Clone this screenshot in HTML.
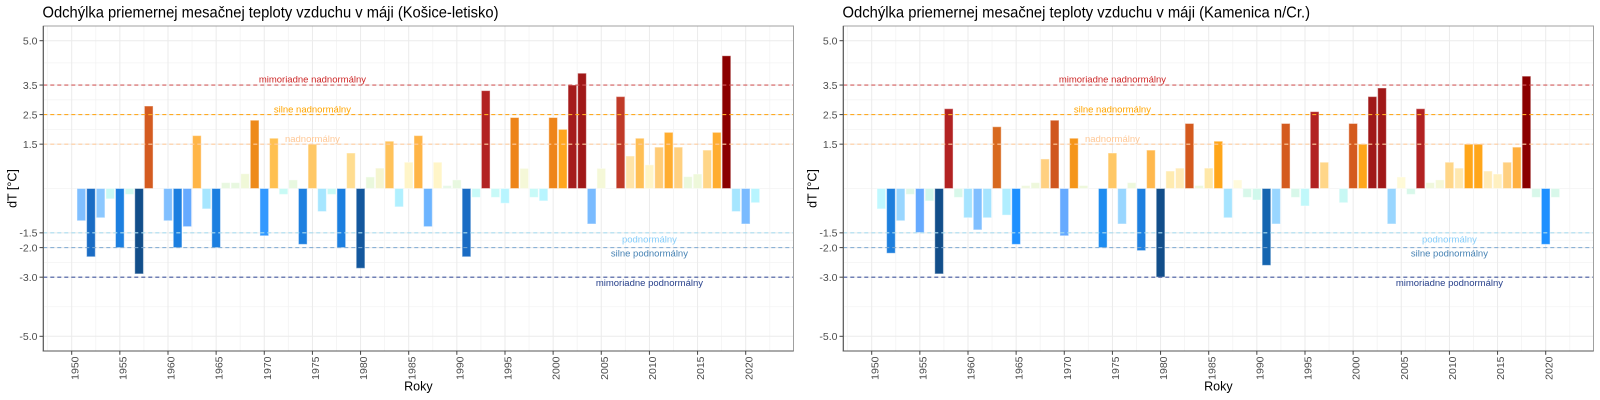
<!DOCTYPE html>
<html><head><meta charset="utf-8"><style>
html,body{margin:0;padding:0;background:#fff;}
svg{display:block;font-family:"Liberation Sans",Arial,sans-serif;}
.t{font-size:15.5px;fill:#000;}
.yt{font-size:10.5px;fill:#4D4D4D;text-anchor:end;}
.xt{font-size:10.5px;fill:#4D4D4D;text-anchor:end;}
.at{font-size:12.5px;fill:#000;text-anchor:middle;}
.lb{font-size:9.5px;text-anchor:middle;}
.gM{stroke:#EBEBEB;stroke-width:1;}
.gm{stroke:#F3F3F3;stroke-width:0.8;}
.bars rect{stroke:#fff;stroke-opacity:0.45;stroke-width:1;vector-effect:non-scaling-stroke;}
.dl{stroke-width:1.1;stroke-dasharray:4 3;fill:none;}
.tk{stroke:#444;stroke-width:1;}
</style></head><body>
<svg width="1600" height="400" viewBox="0 0 1600 400" xmlns="http://www.w3.org/2000/svg">
<defs>
<g id="frame">
  <rect x="43.3" y="26" width="750.2" height="325" fill="#fff"/>
  <!-- minor grid -->
  <g class="gm">
    <line x1="43.3" x2="793.5" y1="62.87" y2="62.87"/>
    <line x1="43.3" x2="793.5" y1="99.82" y2="99.82"/>
    <line x1="43.3" x2="793.5" y1="129.38" y2="129.38"/>
    <line x1="43.3" x2="793.5" y1="188.5" y2="188.5"/>
    <line x1="43.3" x2="793.5" y1="240.23" y2="240.23"/>
    <line x1="43.3" x2="793.5" y1="262.4" y2="262.4"/>
    <line x1="43.3" x2="793.5" y1="306.74" y2="306.74"/>
    <line y1="26" y2="351" x1="47.63" x2="47.63"/>
    <line y1="26" y2="351" x1="95.77" x2="95.77"/>
    <line y1="26" y2="351" x1="143.91" x2="143.91"/>
    <line y1="26" y2="351" x1="192.06" x2="192.06"/>
    <line y1="26" y2="351" x1="240.2" x2="240.2"/>
    <line y1="26" y2="351" x1="288.35" x2="288.35"/>
    <line y1="26" y2="351" x1="336.49" x2="336.49"/>
    <line y1="26" y2="351" x1="384.63" x2="384.63"/>
    <line y1="26" y2="351" x1="432.77" x2="432.77"/>
    <line y1="26" y2="351" x1="480.92" x2="480.92"/>
    <line y1="26" y2="351" x1="529.06" x2="529.06"/>
    <line y1="26" y2="351" x1="577.2" x2="577.2"/>
    <line y1="26" y2="351" x1="625.35" x2="625.35"/>
    <line y1="26" y2="351" x1="673.49" x2="673.49"/>
    <line y1="26" y2="351" x1="721.63" x2="721.63"/>
    <line y1="26" y2="351" x1="769.77" x2="769.77"/>
  </g>
  <!-- major grid -->
  <g class="gM">
    <line x1="43.3" x2="793.5" y1="40.7" y2="40.7"/>
    <line x1="43.3" x2="793.5" y1="85.04" y2="85.04"/>
    <line x1="43.3" x2="793.5" y1="114.6" y2="114.6"/>
    <line x1="43.3" x2="793.5" y1="144.16" y2="144.16"/>
    <line x1="43.3" x2="793.5" y1="232.84" y2="232.84"/>
    <line x1="43.3" x2="793.5" y1="247.62" y2="247.62"/>
    <line x1="43.3" x2="793.5" y1="277.18" y2="277.18"/>
    <line x1="43.3" x2="793.5" y1="336.3" y2="336.3"/>
    <line y1="26" y2="351" x1="71.7" x2="71.7"/>
    <line y1="26" y2="351" x1="119.84" x2="119.84"/>
    <line y1="26" y2="351" x1="167.99" x2="167.99"/>
    <line y1="26" y2="351" x1="216.13" x2="216.13"/>
    <line y1="26" y2="351" x1="264.27" x2="264.27"/>
    <line y1="26" y2="351" x1="312.42" x2="312.42"/>
    <line y1="26" y2="351" x1="360.56" x2="360.56"/>
    <line y1="26" y2="351" x1="408.7" x2="408.7"/>
    <line y1="26" y2="351" x1="456.84" x2="456.84"/>
    <line y1="26" y2="351" x1="504.99" x2="504.99"/>
    <line y1="26" y2="351" x1="553.13" x2="553.13"/>
    <line y1="26" y2="351" x1="601.27" x2="601.27"/>
    <line y1="26" y2="351" x1="649.42" x2="649.42"/>
    <line y1="26" y2="351" x1="697.56" x2="697.56"/>
    <line y1="26" y2="351" x1="745.7" x2="745.7"/>
  </g>
</g>
<g id="over">
  <line class="dl" x1="43.3" x2="793.5" y1="85.04" y2="85.04" stroke="#D05A5A"/>
  <line class="dl" x1="43.3" x2="793.5" y1="114.6" y2="114.6" stroke="#FFAA22"/>
  <line class="dl" x1="43.3" x2="793.5" y1="144.16" y2="144.16" stroke="#FFCC9E"/>
  <line class="dl" x1="43.3" x2="793.5" y1="232.84" y2="232.84" stroke="#A9DCEF"/>
  <line class="dl" x1="43.3" x2="793.5" y1="247.62" y2="247.62" stroke="#7DA9D2"/>
  <line class="dl" x1="43.3" x2="793.5" y1="277.18" y2="277.18" stroke="#43579E"/>
  <text class="lb" x="312.42" y="82.5" fill="#CD2626">mimoriadne nadnormálny</text>
  <text class="lb" x="312.42" y="112.5" fill="#FFA500">silne nadnormálny</text>
  <text class="lb" x="312.42" y="142" fill="#FFC896">nadnormálny</text>
  <text class="lb" x="649.42" y="242.5" fill="#87CEFA">podnormálny</text>
  <text class="lb" x="649.42" y="256.5" fill="#4682B4">silne podnormálny</text>
  <text class="lb" x="649.42" y="286" fill="#27408B">mimoriadne podnormálny</text>
  <!-- border -->
  <rect x="43.3" y="26" width="750.2" height="325" fill="none" stroke="#A0A0A0" stroke-width="1"/>
  <line x1="43.3" x2="43.3" y1="26" y2="351.5" stroke="#555" stroke-width="1.1"/>
  <line x1="42.8" x2="793.5" y1="351" y2="351" stroke="#555" stroke-width="1.1"/>
  <!-- y ticks -->
  <g class="tk">
    <line x1="39.5" x2="43.3" y1="40.7" y2="40.7"/>
    <line x1="39.5" x2="43.3" y1="85.04" y2="85.04"/>
    <line x1="39.5" x2="43.3" y1="114.6" y2="114.6"/>
    <line x1="39.5" x2="43.3" y1="144.16" y2="144.16"/>
    <line x1="39.5" x2="43.3" y1="232.84" y2="232.84"/>
    <line x1="39.5" x2="43.3" y1="247.62" y2="247.62"/>
    <line x1="39.5" x2="43.3" y1="277.18" y2="277.18"/>
    <line x1="39.5" x2="43.3" y1="336.3" y2="336.3"/>
    <line y1="351" y2="354.8" x1="71.7" x2="71.7"/>
    <line y1="351" y2="354.8" x1="119.84" x2="119.84"/>
    <line y1="351" y2="354.8" x1="167.99" x2="167.99"/>
    <line y1="351" y2="354.8" x1="216.13" x2="216.13"/>
    <line y1="351" y2="354.8" x1="264.27" x2="264.27"/>
    <line y1="351" y2="354.8" x1="312.42" x2="312.42"/>
    <line y1="351" y2="354.8" x1="360.56" x2="360.56"/>
    <line y1="351" y2="354.8" x1="408.7" x2="408.7"/>
    <line y1="351" y2="354.8" x1="456.84" x2="456.84"/>
    <line y1="351" y2="354.8" x1="504.99" x2="504.99"/>
    <line y1="351" y2="354.8" x1="553.13" x2="553.13"/>
    <line y1="351" y2="354.8" x1="601.27" x2="601.27"/>
    <line y1="351" y2="354.8" x1="649.42" x2="649.42"/>
    <line y1="351" y2="354.8" x1="697.56" x2="697.56"/>
    <line y1="351" y2="354.8" x1="745.7" x2="745.7"/>
  </g>
  <text class="yt" x="37.5" y="44.4">5.0</text>
  <text class="yt" x="37.5" y="88.8">3.5</text>
  <text class="yt" x="37.5" y="118.3">2.5</text>
  <text class="yt" x="37.5" y="147.9">1.5</text>
  <text class="yt" x="37.5" y="236.6">-1.5</text>
  <text class="yt" x="37.5" y="251.4">-2.0</text>
  <text class="yt" x="37.5" y="280.9">-3.0</text>
  <text class="yt" x="37.5" y="340">-5.0</text>
  <text class="xt" transform="translate(78.3,356.5) rotate(-90)">1950</text>
  <text class="xt" transform="translate(126.44,356.5) rotate(-90)">1955</text>
  <text class="xt" transform="translate(174.59,356.5) rotate(-90)">1960</text>
  <text class="xt" transform="translate(222.73,356.5) rotate(-90)">1965</text>
  <text class="xt" transform="translate(270.87,356.5) rotate(-90)">1970</text>
  <text class="xt" transform="translate(319.02,356.5) rotate(-90)">1975</text>
  <text class="xt" transform="translate(367.16,356.5) rotate(-90)">1980</text>
  <text class="xt" transform="translate(415.3,356.5) rotate(-90)">1985</text>
  <text class="xt" transform="translate(463.44,356.5) rotate(-90)">1990</text>
  <text class="xt" transform="translate(511.59,356.5) rotate(-90)">1995</text>
  <text class="xt" transform="translate(559.73,356.5) rotate(-90)">2000</text>
  <text class="xt" transform="translate(607.87,356.5) rotate(-90)">2005</text>
  <text class="xt" transform="translate(656.02,356.5) rotate(-90)">2010</text>
  <text class="xt" transform="translate(704.16,356.5) rotate(-90)">2015</text>
  <text class="xt" transform="translate(752.3,356.5) rotate(-90)">2020</text>
  <text class="at" x="418.4" y="390.5">Roky</text>
  <text class="at" transform="translate(16.3,188.5) rotate(-90)">dT [°C]</text>
</g>
</defs>

<!-- LEFT PANEL -->
<use href="#frame"/>
<g class="bars" transform="translate(71.7,188.5) scale(9.6286,-29.56)">
<rect x="0.55" y="-1.09" width="0.9" height="1.09" fill="#80BFFF"/>
<rect x="1.55" y="-2.31" width="0.9" height="2.31" fill="#1A6CC4"/>
<rect x="2.55" y="-0.99" width="0.9" height="0.99" fill="#8CC8FF"/>
<rect x="3.55" y="-0.35" width="0.9" height="0.35" fill="#C8FAF5"/>
<rect x="4.55" y="-2.0" width="0.9" height="2.0" fill="#1C7FE0"/>
<rect x="5.55" y="-0.2" width="0.9" height="0.2" fill="#D0FAF0"/>
<rect x="6.55" y="-2.89" width="0.9" height="2.89" fill="#124E8A"/>
<rect x="7.55" y="0" width="0.9" height="2.79" fill="#D45B20"/>
<rect x="9.55" y="-1.09" width="0.9" height="1.09" fill="#80BFFF"/>
<rect x="10.55" y="-2.0" width="0.9" height="2.0" fill="#1C7FE0"/>
<rect x="11.55" y="-1.29" width="0.9" height="1.29" fill="#66AAFF"/>
<rect x="12.55" y="0" width="0.9" height="1.79" fill="#FFB547"/>
<rect x="13.55" y="-0.69" width="0.9" height="0.69" fill="#A6E6FF"/>
<rect x="14.55" y="-2.0" width="0.9" height="2.0" fill="#1C7FE0"/>
<rect x="15.55" y="0" width="0.9" height="0.2" fill="#E8F8E0"/>
<rect x="16.55" y="0" width="0.9" height="0.2" fill="#E8F8E0"/>
<rect x="17.55" y="0" width="0.9" height="0.5" fill="#F0F8D8"/>
<rect x="18.55" y="0" width="0.9" height="2.31" fill="#EE8A1A"/>
<rect x="19.55" y="-1.6" width="0.9" height="1.6" fill="#3399FF"/>
<rect x="20.55" y="0" width="0.9" height="1.7" fill="#FFC050"/>
<rect x="21.55" y="-0.2" width="0.9" height="0.2" fill="#C8FAF5"/>
<rect x="22.55" y="0" width="0.9" height="0.29" fill="#E8F8E0"/>
<rect x="23.55" y="-1.89" width="0.9" height="1.89" fill="#1E80E0"/>
<rect x="24.55" y="0" width="0.9" height="1.5" fill="#FFC866"/>
<rect x="25.55" y="-0.78" width="0.9" height="0.78" fill="#A6E6FF"/>
<rect x="26.55" y="-0.2" width="0.9" height="0.2" fill="#C8FAF5"/>
<rect x="27.55" y="-2.0" width="0.9" height="2.0" fill="#1C7FE0"/>
<rect x="28.55" y="0" width="0.9" height="1.2" fill="#FFDD90"/>
<rect x="29.55" y="-2.7" width="0.9" height="2.7" fill="#14589E"/>
<rect x="30.55" y="0" width="0.9" height="0.39" fill="#EAF8DC"/>
<rect x="31.55" y="0" width="0.9" height="0.69" fill="#F5F5D0"/>
<rect x="32.55" y="0" width="0.9" height="1.6" fill="#FFC25A"/>
<rect x="33.55" y="-0.62" width="0.9" height="0.62" fill="#B0F0FF"/>
<rect x="34.55" y="0" width="0.9" height="0.89" fill="#FFF5C8"/>
<rect x="35.55" y="0" width="0.9" height="1.79" fill="#FFB547"/>
<rect x="36.55" y="-1.29" width="0.9" height="1.29" fill="#6CB4FF"/>
<rect x="37.55" y="0" width="0.9" height="0.89" fill="#FFF5C8"/>
<rect x="38.55" y="0" width="0.9" height="0.1" fill="#E8F8E8"/>
<rect x="39.55" y="0" width="0.9" height="0.29" fill="#E8F8E0"/>
<rect x="40.55" y="-2.31" width="0.9" height="2.31" fill="#1A6CC4"/>
<rect x="41.55" y="-0.3" width="0.9" height="0.3" fill="#C8FAF8"/>
<rect x="42.55" y="0" width="0.9" height="3.31" fill="#B22222"/>
<rect x="43.55" y="-0.3" width="0.9" height="0.3" fill="#C8FAF8"/>
<rect x="44.55" y="-0.5" width="0.9" height="0.5" fill="#B8F5FF"/>
<rect x="45.55" y="0" width="0.9" height="2.4" fill="#EE851A"/>
<rect x="46.55" y="0" width="0.9" height="0.68" fill="#F5F8D8"/>
<rect x="47.55" y="-0.3" width="0.9" height="0.3" fill="#C8FAF8"/>
<rect x="48.55" y="-0.42" width="0.9" height="0.42" fill="#B8F5FF"/>
<rect x="49.55" y="0" width="0.9" height="2.4" fill="#EE851A"/>
<rect x="50.55" y="0" width="0.9" height="2.0" fill="#FFA61F"/>
<rect x="51.55" y="0" width="0.9" height="3.5" fill="#A51C1C"/>
<rect x="52.55" y="0" width="0.9" height="3.9" fill="#A01818"/>
<rect x="53.55" y="-1.2" width="0.9" height="1.2" fill="#7ABBFF"/>
<rect x="54.55" y="0" width="0.9" height="0.68" fill="#F5F8D8"/>
<rect x="56.55" y="0" width="0.9" height="3.11" fill="#C03A28"/>
<rect x="57.55" y="0" width="0.9" height="1.1" fill="#FFE4A8"/>
<rect x="58.55" y="0" width="0.9" height="1.7" fill="#FFBF55"/>
<rect x="59.55" y="0" width="0.9" height="0.8" fill="#FFF5C8"/>
<rect x="60.55" y="0" width="0.9" height="1.4" fill="#FFCC77"/>
<rect x="61.55" y="0" width="0.9" height="1.9" fill="#FFAD30"/>
<rect x="62.55" y="0" width="0.9" height="1.4" fill="#FFD080"/>
<rect x="63.55" y="0" width="0.9" height="0.4" fill="#EAF8DC"/>
<rect x="64.55" y="0" width="0.9" height="0.49" fill="#EEF8DA"/>
<rect x="65.55" y="0" width="0.9" height="1.3" fill="#FFD688"/>
<rect x="66.55" y="0" width="0.9" height="1.9" fill="#FFAD30"/>
<rect x="67.55" y="0" width="0.9" height="4.49" fill="#8B0000"/>
<rect x="68.55" y="-0.78" width="0.9" height="0.78" fill="#A6E6FF"/>
<rect x="69.55" y="-1.2" width="0.9" height="1.2" fill="#7ABBFF"/>
<rect x="70.55" y="-0.48" width="0.9" height="0.48" fill="#B8F5FF"/>
</g>
<use href="#over"/>
<text class="t" x="42.5" y="17.3" textLength="456" lengthAdjust="spacingAndGlyphs">Odchýlka priemernej mesačnej teploty vzduchu v máji (Košice-letisko)</text>

<!-- RIGHT PANEL -->
<g transform="translate(800,0)">
<use href="#frame"/>
<g class="bars" transform="translate(71.7,188.5) scale(9.6286,-29.56)">
<rect x="0.55" y="-0.69" width="0.9" height="0.69" fill="#C0F8FF"/>
<rect x="1.55" y="-2.19" width="0.9" height="2.19" fill="#1E7FDD"/>
<rect x="2.55" y="-1.09" width="0.9" height="1.09" fill="#99D6FF"/>
<rect x="3.55" y="-0.2" width="0.9" height="0.2" fill="#E0F8E8"/>
<rect x="4.55" y="-1.49" width="0.9" height="1.49" fill="#66AAFF"/>
<rect x="5.55" y="-0.42" width="0.9" height="0.42" fill="#D0F8EC"/>
<rect x="6.55" y="-2.89" width="0.9" height="2.89" fill="#124E8A"/>
<rect x="7.55" y="0" width="0.9" height="2.7" fill="#B22222"/>
<rect x="8.55" y="-0.3" width="0.9" height="0.3" fill="#D8F8EA"/>
<rect x="9.55" y="-0.99" width="0.9" height="0.99" fill="#A6E4FF"/>
<rect x="10.55" y="-1.4" width="0.9" height="1.4" fill="#80BFFF"/>
<rect x="11.55" y="-0.99" width="0.9" height="0.99" fill="#A6E4FF"/>
<rect x="12.55" y="0" width="0.9" height="2.09" fill="#D8691E"/>
<rect x="13.55" y="-0.9" width="0.9" height="0.9" fill="#B0EEFF"/>
<rect x="14.55" y="-1.89" width="0.9" height="1.89" fill="#1E90FF"/>
<rect x="15.55" y="0" width="0.9" height="0.1" fill="#F0F8E0"/>
<rect x="16.55" y="0" width="0.9" height="0.2" fill="#EEF8DC"/>
<rect x="17.55" y="0" width="0.9" height="1.0" fill="#FFD080"/>
<rect x="18.55" y="0" width="0.9" height="2.31" fill="#D0561E"/>
<rect x="19.55" y="-1.6" width="0.9" height="1.6" fill="#66AAFF"/>
<rect x="20.55" y="0" width="0.9" height="1.7" fill="#F5951A"/>
<rect x="21.55" y="0" width="0.9" height="0.1" fill="#EEF8DC"/>
<rect x="23.55" y="-2.0" width="0.9" height="2.0" fill="#1E8CF0"/>
<rect x="24.55" y="0" width="0.9" height="1.2" fill="#FFC866"/>
<rect x="25.55" y="-1.2" width="0.9" height="1.2" fill="#99D6FF"/>
<rect x="26.55" y="0" width="0.9" height="0.2" fill="#EEF8DC"/>
<rect x="27.55" y="-2.1" width="0.9" height="2.1" fill="#1E80E0"/>
<rect x="28.55" y="0" width="0.9" height="1.3" fill="#FFB84D"/>
<rect x="29.55" y="-3.0" width="0.9" height="3.0" fill="#124E8A"/>
<rect x="30.55" y="0" width="0.9" height="0.59" fill="#FFEBB0"/>
<rect x="31.55" y="0" width="0.9" height="0.69" fill="#FFEBB8"/>
<rect x="32.55" y="0" width="0.9" height="2.2" fill="#D45A1E"/>
<rect x="33.55" y="0" width="0.9" height="0.1" fill="#EEF8DC"/>
<rect x="34.55" y="0" width="0.9" height="0.69" fill="#FFE8A8"/>
<rect x="35.55" y="0" width="0.9" height="1.6" fill="#FFA61A"/>
<rect x="36.55" y="-0.99" width="0.9" height="0.99" fill="#A6E4FF"/>
<rect x="37.55" y="0" width="0.9" height="0.29" fill="#FFFADC"/>
<rect x="38.55" y="-0.3" width="0.9" height="0.3" fill="#D8F8EA"/>
<rect x="39.55" y="-0.39" width="0.9" height="0.39" fill="#D0F8EC"/>
<rect x="40.55" y="-2.6" width="0.9" height="2.6" fill="#1565B0"/>
<rect x="41.55" y="-1.2" width="0.9" height="1.2" fill="#99D6FF"/>
<rect x="42.55" y="0" width="0.9" height="2.2" fill="#D45A1E"/>
<rect x="43.55" y="-0.3" width="0.9" height="0.3" fill="#D8F8EA"/>
<rect x="44.55" y="-0.59" width="0.9" height="0.59" fill="#C0F8FA"/>
<rect x="45.55" y="0" width="0.9" height="2.6" fill="#B22222"/>
<rect x="46.55" y="0" width="0.9" height="0.89" fill="#FFD688"/>
<rect x="48.55" y="-0.48" width="0.9" height="0.48" fill="#C8F8F4"/>
<rect x="49.55" y="0" width="0.9" height="2.2" fill="#D45A1E"/>
<rect x="50.55" y="0" width="0.9" height="1.5" fill="#FFA61A"/>
<rect x="51.55" y="0" width="0.9" height="3.11" fill="#A01818"/>
<rect x="52.55" y="0" width="0.9" height="3.4" fill="#A01818"/>
<rect x="53.55" y="-1.2" width="0.9" height="1.2" fill="#99D6FF"/>
<rect x="54.55" y="0" width="0.9" height="0.39" fill="#FFFAD8"/>
<rect x="55.55" y="-0.2" width="0.9" height="0.2" fill="#D8F8EA"/>
<rect x="56.55" y="0" width="0.9" height="2.7" fill="#B22222"/>
<rect x="57.55" y="0" width="0.9" height="0.2" fill="#F0F8DC"/>
<rect x="58.55" y="0" width="0.9" height="0.29" fill="#F5F8D8"/>
<rect x="59.55" y="0" width="0.9" height="0.89" fill="#FFD688"/>
<rect x="60.55" y="0" width="0.9" height="0.69" fill="#FFE8B0"/>
<rect x="61.55" y="0" width="0.9" height="1.5" fill="#FFA61A"/>
<rect x="62.55" y="0" width="0.9" height="1.5" fill="#FFA61A"/>
<rect x="63.55" y="0" width="0.9" height="0.59" fill="#FFEBB8"/>
<rect x="64.55" y="0" width="0.9" height="0.49" fill="#FFF0C0"/>
<rect x="65.55" y="0" width="0.9" height="0.89" fill="#FFD080"/>
<rect x="66.55" y="0" width="0.9" height="1.4" fill="#FFB040"/>
<rect x="67.55" y="0" width="0.9" height="3.8" fill="#8B0000"/>
<rect x="68.55" y="-0.3" width="0.9" height="0.3" fill="#D8F8EA"/>
<rect x="69.55" y="-1.89" width="0.9" height="1.89" fill="#1E90FF"/>
<rect x="70.55" y="-0.3" width="0.9" height="0.3" fill="#D8F8EA"/>
</g>
<use href="#over"/>
<text class="t" x="42.5" y="17.3" textLength="467.5" lengthAdjust="spacingAndGlyphs">Odchýlka priemernej mesačnej teploty vzduchu v máji (Kamenica n/Cr.)</text>
</g>
</svg>
</body></html>
